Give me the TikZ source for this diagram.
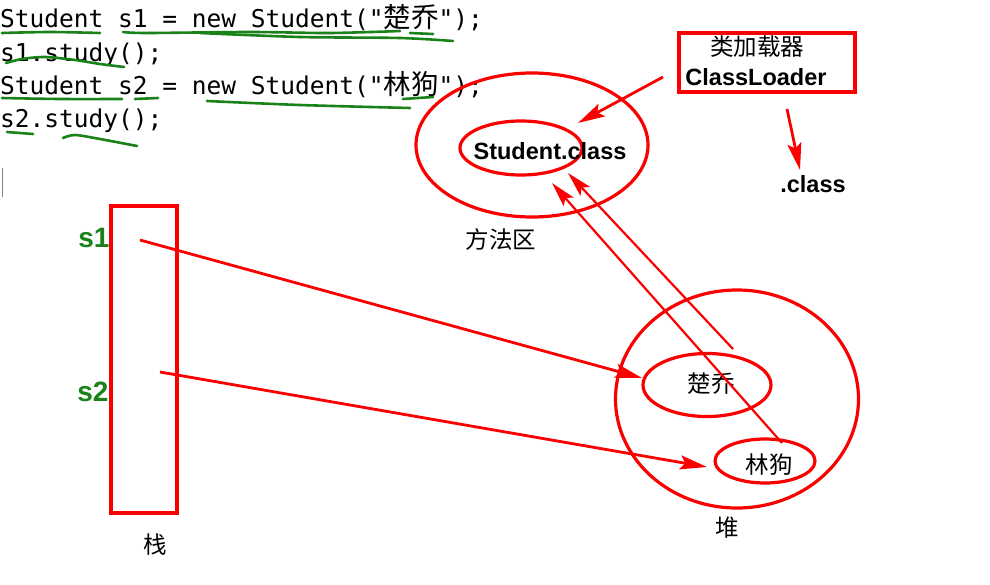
\documentclass[tikz,border=0pt]{standalone}
\usepackage{fontspec}
\setmainfont{Liberation Sans}
\setmonofont{DejaVu Sans Mono}
\newfontfamily\cjk{Noto Sans CJK SC}
\usetikzlibrary{shapes.geometric, arrows.meta}
\definecolor{penred}{RGB}{250,0,0}
\definecolor{pengreen}{RGB}{25,130,25}
\newcommand{\codefont}{\ttfamily\fontsize{24.5}{29}\selectfont}
\newcommand{\codecjk}{\cjk\fontsize{27.5}{29}\selectfont}
\newcommand{\cjklabel}{\cjk\fontsize{23.5}{28}\selectfont}
\newcommand{\boldlabel}{\bfseries\fontsize{23.5}{28}\selectfont}

\begin{document}
\begin{tikzpicture}[x=1pt, y=-1pt,
  code/.style={anchor=base west, font=\codefont},
  area/.style={draw=penred, line width=3.2pt, ellipse},
  ref/.style={draw=penred, line width=2.8pt, -{Stealth[length=27pt, width=14pt, inset=5pt]}},
  thinref/.style={draw=penred, line width=2.2pt, -{Stealth[length=25pt, width=13pt, inset=5pt]}},
  hand/.style={draw=pengreen, line width=2.6pt, line cap=round},
  penmark/.style={text=pengreen, font=\bfseries\fontsize{28}{30}\selectfont}]
\tikzstyle{every node}+=[inner sep=0pt]
\fill [white] (0,0) rectangle (990,584);
% code lines
\node [code] (code1) at (0,27) {Student s1 = new Student("{\codecjk 楚乔}");};
\node [code] (code2) at (0,61) {s1.study();};
\node [code] (code3) at (0,94) {Student s2 = new Student("{\codecjk 林狗}");};
\node [code] (code4) at (0,127) {s2.study();};
\draw [gray, line width=1pt] (2,168) -- (2,197);
% green pen marks
\draw [hand] plot [smooth] coordinates {(2,33) (50,32) (100,33)};
\draw [hand] plot [smooth] coordinates {(123,32) (147,33) (250,32) (330,33) (400,31)};
\draw [hand] plot [smooth] coordinates {(200,33) (300,37) (400,38) (453,41)};
\draw [hand] (410,33) -- (433,34);
\draw [hand] plot [smooth] coordinates {(6,63) (22,59) (45,57) (75,60) (100,64) (124,67)};
\draw [hand] plot [smooth] coordinates {(2,98) (60,99) (122,99)};
\draw [hand] (135,99) -- (158,98);
\draw [hand] plot [smooth] coordinates {(207,101) (300,105) (410,108)};
\draw [hand] (403,99) -- (433,97);
\draw [hand] (7,132) -- (33,134);
\draw [hand] plot [smooth] coordinates {(63,138) (75,135) (100,139) (137,146)};
% stack
\node [draw=penred, line width=3.5pt, minimum width=66pt, minimum height=307pt] (stack) at (144,359.5) {};
\node [font=\cjklabel] (stackLabel) at (155,545) {栈};
\node [penmark] (s1mark) at (94,238) {s1};
\node [penmark] (s2mark) at (93,392) {s2};
\coordinate (s1ref) at (140,240);
\coordinate (s2ref) at (160,372);
% method area
\node [area, minimum width=232pt, minimum height=144pt] (method) at (532,145) {};
\node [area, minimum width=122pt, minimum height=54pt] (classFile) at (521,148) {};
\node [font=\boldlabel] (classText) at (550,151) {Student.class};
\node [font=\cjklabel] (methodLabel) at (501,240) {方法区};
% class loader
\node [draw=penred, line width=3.5pt, minimum width=176pt, minimum height=59pt] (loader) at (767,62.5) {};
\node [font=\cjklabel] (loaderCn) at (757,47) {类加载器};
\node [font=\boldlabel] (loaderEn) at (756,77) {ClassLoader};
\node [font=\boldlabel] (dotClass) at (813,184) {.class};
\coordinate (loaderOut) at (663,77);
\coordinate (loaderIn) at (578,123);
\coordinate (fileOut) at (787,109);
\coordinate (fileIn) at (800,170);
% heap
\node [area, minimum width=243pt, minimum height=218pt] (heap) at (737,399) {};
\node [area, minimum width=128pt, minimum height=63pt] (qiao) at (707,385) {};
\node [area, minimum width=100pt, minimum height=44pt] (gou) at (765,461) {};
\node [font=\cjklabel] (qiaoText) at (711,384) {楚乔};
\node [font=\cjklabel] (gouText) at (769,465) {林狗};
\node [font=\cjklabel] (heapLabel) at (727,528) {堆};
\coordinate (qiaoTip) at (642,378);
\coordinate (gouTip) at (707,467);
\coordinate (qiaoClass) at (733,349);
\coordinate (gouClass) at (782,443);
\coordinate (classTipA) at (568,173);
\coordinate (classTipB) at (552,183);
% connectors
\draw [ref] (s1ref) -- (qiaoTip);
\draw [ref] (s2ref) -- (gouTip);
\draw [ref] (loaderOut) -- (loaderIn);
\draw [ref] (fileOut) -- (fileIn);
\draw [thinref] (qiaoClass) -- (classTipA);
\draw [thinref] (gouClass) -- (classTipB);
\end{tikzpicture}
\end{document}
